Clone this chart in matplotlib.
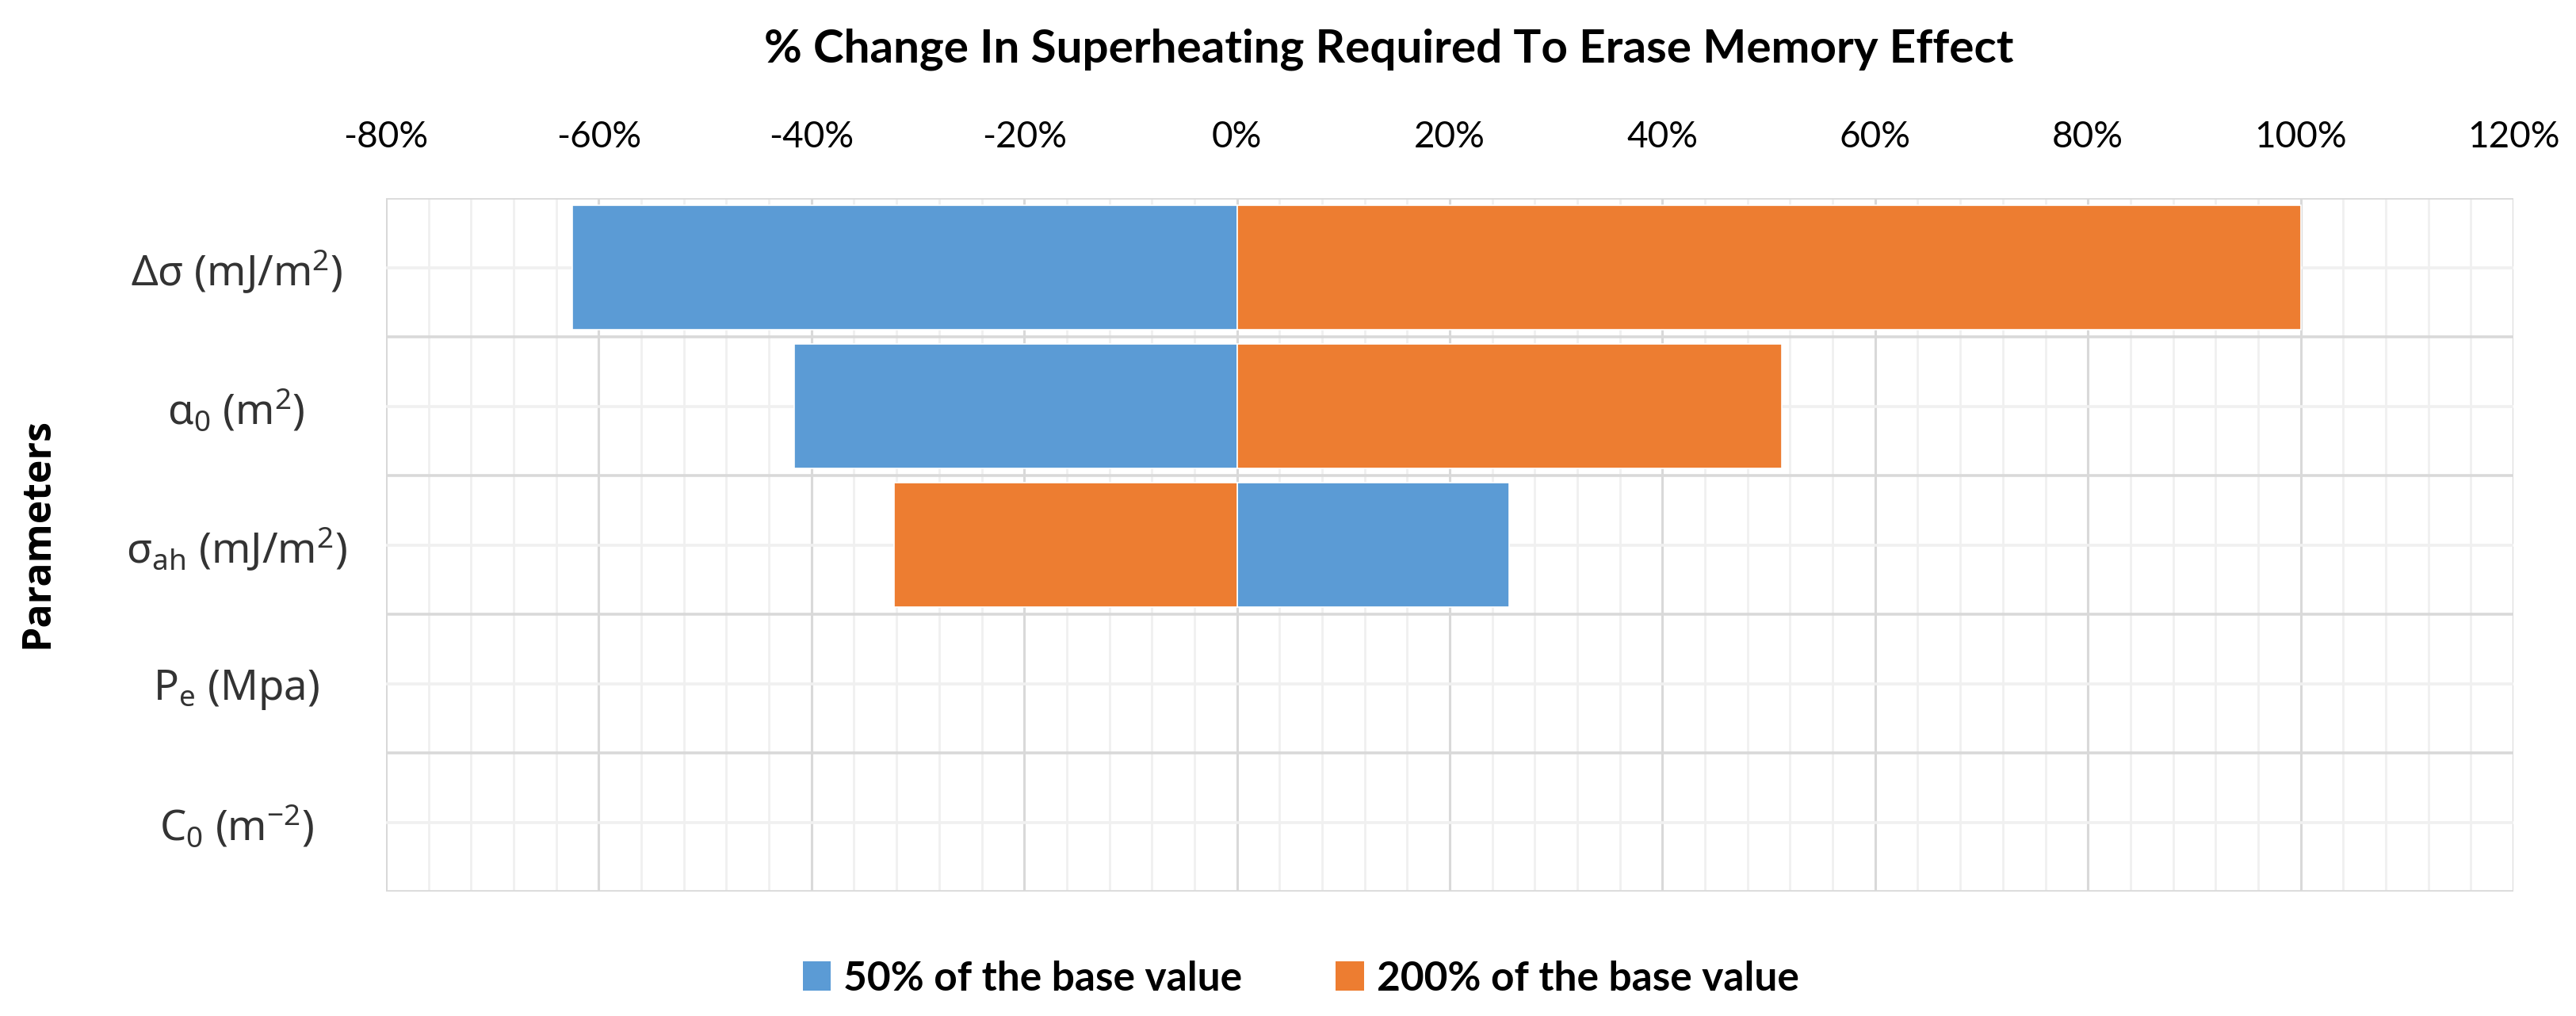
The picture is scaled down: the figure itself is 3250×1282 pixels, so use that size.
import matplotlib
matplotlib.use("Agg")
import matplotlib.pyplot as plt
from matplotlib.patches import Patch
from matplotlib.ticker import MultipleLocator, FuncFormatter

# ---- data ----
categories = [
    r'Δσ (mJ/m$\mathregular{^{2}}$)',
    r'α$\mathregular{_{0}}$ (m$\mathregular{^{2}}$)',
    r'σ$\mathregular{_{ah}}$ (mJ/m$\mathregular{^{2}}$)',
    r'P$\mathregular{_{e}}$ (Mpa)',
    r'C$\mathregular{_{0}}$ (m$\mathregular{^{-2}}$)',
]
series_names = ["50% of the base value", "200% of the base value"]
pct_50 = [-62.5, -41.6, 25.6, 0.0, 0.0]
pct_200 = [100.0, 51.2, -32.2, 0.0, 0.0]
colors = ["#5B9BD5", "#ED7D31"]
title = "% Change In Superheating Required To Erase Memory Effect"
ylabel = "Parameters"

W, H, DPI = 3250, 1282, 100
fig = plt.figure(figsize=(W / DPI, H / DPI), dpi=DPI)
ax = fig.add_axes([487 / W, 1 - 1125 / H, (3171 - 487) / W, (1125 - 250) / H])

ypos = list(range(len(categories)))
for vals, col in zip([pct_50, pct_200], colors):
    ec = ["white" if v != 0 else "none" for v in vals]
    ax.barh(ypos, vals, height=0.9, color=col, edgecolor=ec, linewidth=1.2, zorder=3)

ax.set_xlim(-80, 120)
ax.set_ylim(len(categories) - 0.5, -0.5)

# gridlines
ax.xaxis.set_major_locator(MultipleLocator(20))
ax.xaxis.set_minor_locator(MultipleLocator(4))
ax.set_yticks(ypos)
ax.set_yticks([i - 0.5 for i in range(len(categories) + 1)], minor=True)
ax.grid(which="major", axis="x", color="#d9d9d9", lw=2.2, zorder=1)
ax.grid(which="minor", axis="x", color="#f0f0f0", lw=2.0, zorder=0)
ax.grid(which="minor", axis="y", color="#d9d9d9", lw=2.6, zorder=1)
ax.grid(which="major", axis="y", color="#f0f0f0", lw=2.6, zorder=0)
ax.set_axisbelow(True)
for s in ax.spines.values():
    s.set_visible(False)

ax.xaxis.tick_top()
ax.xaxis.set_major_formatter(FuncFormatter(lambda v, p: f"{v:.0f}%"))
ax.tick_params(axis="x", which="both", length=0, pad=40, labelsize=33)
for lab in ax.get_xticklabels():
    lab.set_fontfamily(["Lato", "DejaVu Sans"])

ax.set_yticklabels(categories)
ax.tick_params(axis="y", which="both", length=0, pad=136)
for lab in ax.get_yticklabels():
    lab.set_fontfamily(["Noto Sans", "DejaVu Sans"])
    lab.set_fontsize(38)
    lab.set_color("#333333")
    lab.set_ha("center")

fig.text(1752 / W, 1 - 62 / H, title, ha="center", va="center",
         fontsize=42, fontweight="bold", family=["Lato", "DejaVu Sans"])
fig.text(48 / W, 1 - 672 / H, ylabel, ha="center", va="center", rotation=90,
         fontsize=36, fontweight="bold", family=["Open Sans", "DejaVu Sans"])

handles = [Patch(facecolor=c, edgecolor="none") for c in colors]
fig.legend(handles, series_names, loc="center", bbox_to_anchor=(1641 / W, 1 - 1235 / H),
           ncol=2, frameon=False, handlelength=0.7, handleheight=0.75,
           handletextpad=0.3, columnspacing=2.3,
           prop={"family": ["Lato", "DejaVu Sans"], "weight": "bold", "size": 37})

fig.savefig("out.png", dpi=DPI, facecolor="white")
